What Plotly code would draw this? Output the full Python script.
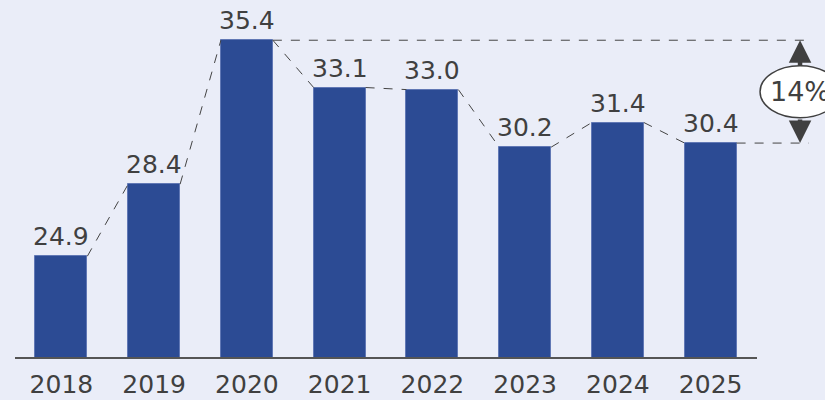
import plotly.graph_objects as go

years = ["2018", "2019", "2020", "2021", "2022", "2023", "2024", "2025"]
values = [24.9, 28.4, 35.4, 33.1, 33.0, 30.2, 31.4, 30.4]
value_labels = ["24.9", "28.4", "35.4", "33.1", "33.0", "30.2", "31.4", "30.4"]
change_label = "14%"

BG = "#EAEDF8"
BAR = "#2C4B94"
TXT = "#404040"
FONT = "DejaVu Sans"
BW = 0.56
n = len(years)
idx = list(range(n))

fig = go.Figure()
fig.add_trace(go.Bar(
    x=idx, y=values, width=BW,
    marker=dict(color=BAR, line=dict(color="#6178B5", width=1)),
    hoverinfo="skip",
))

shapes = []
for i in range(n - 1):
    shapes.append(dict(type="line", xref="x", yref="y",
                       x0=i + BW / 2, y0=values[i], x1=i + 1 - BW / 2, y1=values[i + 1],
                       line=dict(color="#444444", width=1, dash="dash")))

imax = values.index(max(values))
ilast = n - 1
x_end = 1.070
x_arrow = 1.058

def paper_right(i):
    return (i + 0.5 + BW / 2) / n

shapes.append(dict(type="line", xref="paper", yref="y",
                   x0=paper_right(imax), x1=x_end, y0=values[imax], y1=values[imax],
                   line=dict(color="#444444", width=1, dash="dash")))
shapes.append(dict(type="line", xref="paper", yref="y",
                   x0=paper_right(ilast), x1=x_end, y0=values[ilast], y1=values[ilast],
                   line=dict(color="#444444", width=1, dash="dash")))
mid = (values[imax] + values[ilast]) / 2
shapes.append(dict(type="circle", xref="paper", yref="y",
                   xsizemode="pixel", ysizemode="pixel",
                   xanchor=x_arrow, yanchor=mid,
                   x0=-40, x1=40, y0=-26, y1=26,
                   fillcolor="white", line=dict(color="#404040", width=1.5)))

annotations = []
for i, (v, lab) in enumerate(zip(values, value_labels)):
    annotations.append(dict(x=i, y=v, xref="x", yref="y", text=lab, showarrow=False,
                            yanchor="bottom", yshift=3,
                            font=dict(family=FONT, size=25, color=TXT)))

annotations.append(dict(x=x_arrow, y=values[imax], xref="paper", yref="y",
                        ax=0, ay=27, axref="pixel", ayref="pixel", text="",
                        showarrow=True, arrowhead=2, arrowsize=1.0, arrowwidth=4.5,
                        arrowcolor="#404040", standoff=0, startstandoff=0))
annotations.append(dict(x=x_arrow, y=values[ilast], xref="paper", yref="y",
                        ax=0, ay=-25, axref="pixel", ayref="pixel", text="",
                        showarrow=True, arrowhead=2, arrowsize=1.0, arrowwidth=4.5,
                        arrowcolor="#404040", standoff=0, startstandoff=0))
annotations.append(dict(x=x_arrow, y=mid, xref="paper", yref="y", text=change_label,
                        showarrow=False, xanchor="center", yanchor="middle",
                        font=dict(family=FONT, size=27, color=TXT)))

fig.update_layout(
    width=825, height=400,
    margin=dict(l=15, r=68, t=0, b=43, autoexpand=False),
    paper_bgcolor=BG, plot_bgcolor=BG,
    showlegend=False,
    shapes=shapes, annotations=annotations,
    bargap=0,
    xaxis=dict(
        tickmode="array", tickvals=idx, ticktext=years,
        range=[-0.5, n - 0.5], automargin=False,
        showgrid=False, zeroline=False,
        showline=True, linecolor="#555555", linewidth=2,
        ticks="", ticklabelstandoff=4,
        tickfont=dict(family=FONT, size=25, color=TXT),
    ),
    yaxis=dict(range=[20, 20 + 357 / 20.57], visible=False, showgrid=False,
               zeroline=False, automargin=False),
)

fig.write_html("out.html", config={"displayModeBar": False},
               post_script="document.body.style.margin='0px';document.body.style.background='%s';" % BG)
